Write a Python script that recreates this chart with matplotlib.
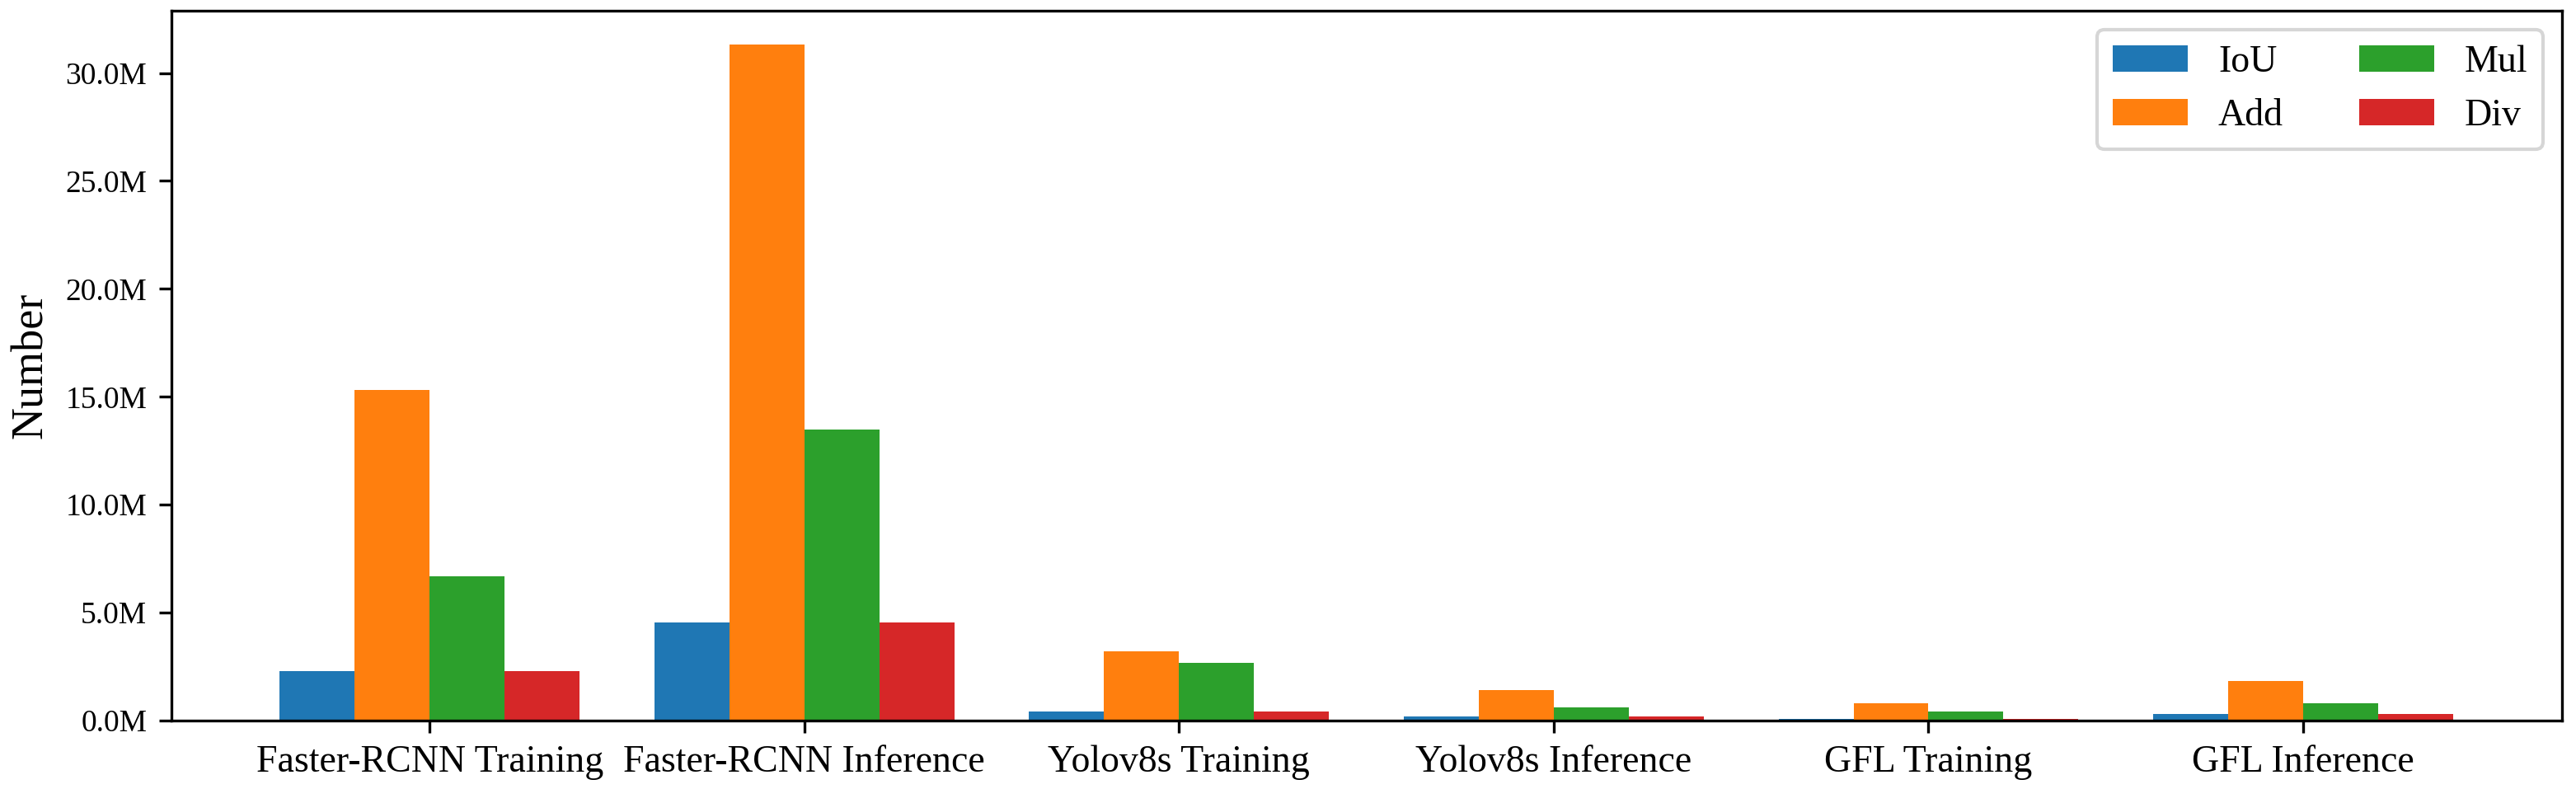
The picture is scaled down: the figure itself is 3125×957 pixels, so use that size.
import matplotlib
matplotlib.use("Agg")
import matplotlib.pyplot as plt
import numpy as np
from matplotlib.ticker import FuncFormatter

categories = ["Faster-RCNN Training", "Faster-RCNN Inference", "Yolov8s Training",
              "Yolov8s Inference", "GFL Training", "GFL Inference"]
series_names = ["IoU", "Add", "Mul", "Div"]
iou = [2.29e6, 4.53e6, 0.43e6, 0.20e6, 0.09e6, 0.30e6]
add = [15.33e6, 31.31e6, 3.20e6, 1.43e6, 0.81e6, 1.84e6]
mul = [6.68e6, 13.48e6, 2.69e6, 0.61e6, 0.41e6, 0.81e6]
div = [2.29e6, 4.53e6, 0.43e6, 0.20e6, 0.09e6, 0.30e6]
colors = ["#1f77b4", "#ff7f0e", "#2ca02c", "#d62728"]

plt.rcParams['font.family'] = ['Liberation Serif', 'DejaVu Serif']

fig = plt.figure(figsize=(3125 / 300, 957 / 300), dpi=300)
ax = fig.add_axes([207.5 / 3125, 83 / 957, (3107.7 - 207.5) / 3125, (874 - 13.3) / 957])

x = np.arange(len(categories))
width = 0.2
all_series = [iou, add, mul, div]
for i, (name, vals) in enumerate(zip(series_names, all_series)):
    ax.bar(x + (i - 1.5) * width, vals, width, label=name, color=colors[i])

ax.set_xticks(x)
ax.set_xticklabels(categories, fontsize=11)
ax.yaxis.set_major_formatter(FuncFormatter(lambda v, p: f"{v / 1e6:.1f}M"))
ax.tick_params(axis='y', labelsize=9)
ax.set_ylabel("Number", fontsize=13)
ax.legend(ncol=2, loc='upper right', fontsize=11)

fig.savefig("out.png", dpi=300)
